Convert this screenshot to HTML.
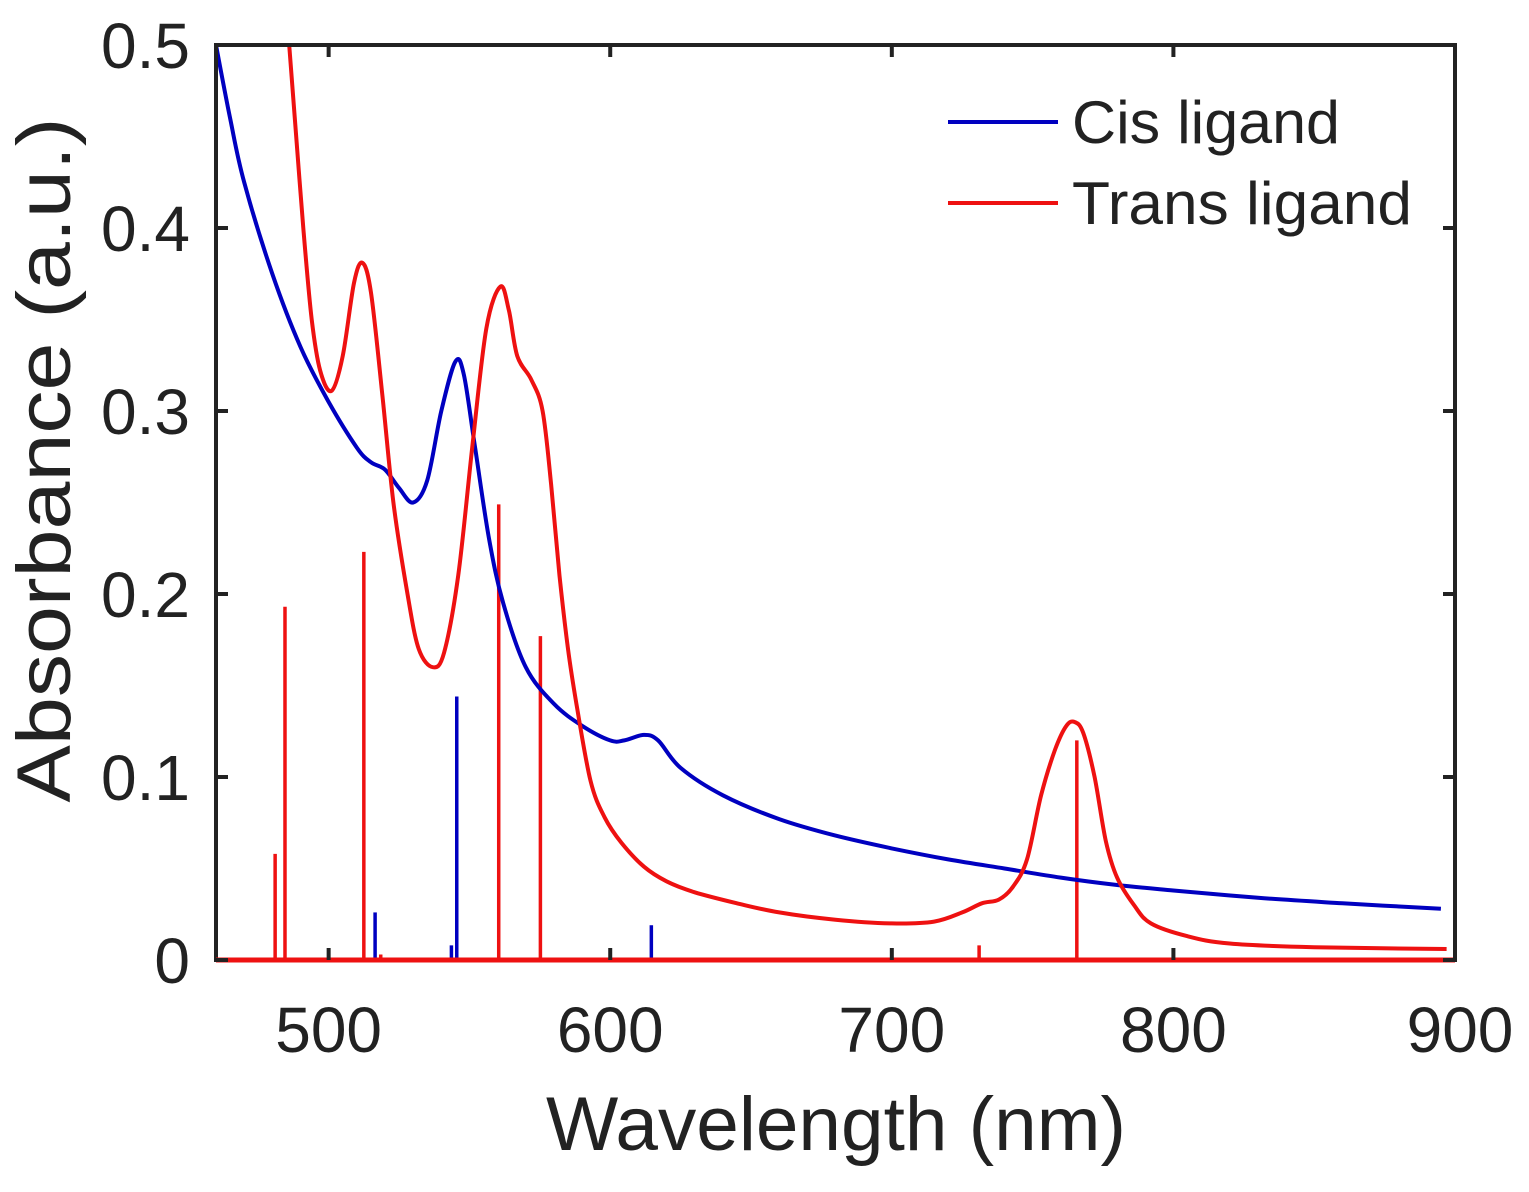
<!DOCTYPE html>
<html><head><meta charset="utf-8"><style>
html,body{margin:0;padding:0;background:#fff;}
svg{display:block;font-family:"Liberation Sans",Arial,sans-serif;}
</style></head><body>
<svg id="chart" width="1529" height="1192" viewBox="0 0 1529 1192" xmlns="http://www.w3.org/2000/svg">
<g id="plot"></g>
<g id="axes"></g>
<text x="836" y="1150" font-size="76" text-anchor="middle" fill="#222" textLength="580" lengthAdjust="spacingAndGlyphs">Wavelength (nm)</text>
<text transform="translate(70,460) rotate(-90)" font-size="76" text-anchor="middle" fill="#222" textLength="685" lengthAdjust="spacingAndGlyphs">Absorbance (a.u.)</text>
<g>
  <line x1="948" y1="122" x2="1058" y2="122" stroke="#0000c0" stroke-width="4"/>
  <text x="1072" y="143" font-size="60" fill="#222" textLength="268" lengthAdjust="spacingAndGlyphs">Cis ligand</text>
  <line x1="948" y1="203" x2="1058" y2="203" stroke="#ee1111" stroke-width="4"/>
  <text x="1072" y="224" font-size="60" fill="#222" textLength="340" lengthAdjust="spacingAndGlyphs">Trans ligand</text>
</g>
</svg>
<script>
const cisWl = [460,465,470,480,490,500,510,515,520,525,530,535,540,545,548,552,557,562,570,580,590,600,605,612,617,625,640,660,680,700,720,740,760,780,800,830,860,895];
const cisAbs = [0.50,0.46,0.425,0.375,0.335,0.305,0.28,0.272,0.268,0.258,0.25,0.262,0.30,0.327,0.32,0.28,0.23,0.195,0.16,0.14,0.128,0.12,0.12,0.123,0.12,0.105,0.09,0.077,0.068,0.061,0.055,0.05,0.045,0.041,0.038,0.034,0.031,0.028];
const transWl = [486,488,491,494,497,501,505,509,512,515,519,523,528,532,537,541,546,551,556,561,564,567,572,576,579,582,585,588,593,598,604,612,620,630,645,660,680,700,715,725,732,738,743,748,753,758,762,765,768,772,776,780,786,792,805,820,850,897];
const transAbs = [0.50,0.46,0.40,0.35,0.322,0.311,0.33,0.37,0.381,0.365,0.31,0.25,0.20,0.17,0.16,0.168,0.21,0.28,0.345,0.368,0.355,0.33,0.317,0.30,0.26,0.21,0.17,0.14,0.098,0.078,0.064,0.051,0.043,0.037,0.031,0.026,0.022,0.020,0.021,0.026,0.031,0.033,0.040,0.055,0.09,0.115,0.128,0.13,0.124,0.10,0.065,0.045,0.030,0.020,0.013,0.009,0.007,0.006];
const cisStickWl = [516.5,543.6,545.5,614.6];
const cisStickAbs = [0.026,0.008,0.144,0.019];
const transStickWl = [481,484.5,512.5,518.5,560.4,575.2,731,765.7];
const transStickAbs = [0.058,0.193,0.223,0.003,0.249,0.177,0.008,0.12];
const xTicks = [500,600,700,800,900];
const yTicks = [0,0.1,0.2,0.3,0.4,0.5];
const yTickLabels = ["0","0.1","0.2","0.3","0.4","0.5"];

const X0=216,X1=1455,Y0=960,Y1=45,WMIN=460,WMAX=900,AMIN=0,AMAX=0.5;
function xs(w){return X0+(w-WMIN)/(WMAX-WMIN)*(X1-X0);}
function ys(a){return Y0-(a-AMIN)/(AMAX-AMIN)*(Y0-Y1);}
const NS="http://www.w3.org/2000/svg";
const plot=document.getElementById('plot'), axes=document.getElementById('axes');
function mk(tag,attrs,parent){const e=document.createElementNS(NS,tag);for(const k in attrs)e.setAttribute(k,attrs[k]);parent.appendChild(e);return e;}
function smoothPath(wl,ab){
  const p=wl.map((w,i)=>[xs(w),ys(ab[i])]);
  let d='M'+p[0][0].toFixed(1)+','+p[0][1].toFixed(1);
  for(let i=0;i<p.length-1;i++){
    const p0=p[i-1]||p[i],p1=p[i],p2=p[i+1],p3=p[i+2]||p[i+1];
    const c1=[p1[0]+(p2[0]-p0[0])/6,p1[1]+(p2[1]-p0[1])/6];
    const c2=[p2[0]-(p3[0]-p1[0])/6,p2[1]-(p3[1]-p1[1])/6];
    d+=' C'+c1.map(v=>v.toFixed(1)).join(',')+' '+c2.map(v=>v.toFixed(1)).join(',')+' '+p2[0].toFixed(1)+','+p2[1].toFixed(1);
  }
  return d;
}
cisStickWl.forEach((w,i)=>{
  const l=mk('line',{x1:xs(w),x2:xs(w),y1:ys(0),y2:ys(cisStickAbs[i]),stroke:'#0000c0','stroke-width':3.5},plot);
  
  
});
transStickWl.forEach((w,i)=>{
  const l=mk('line',{x1:xs(w),x2:xs(w),y1:ys(0),y2:ys(transStickAbs[i]),stroke:'#ee1111','stroke-width':3.5},plot);
  
  
});
const cp=mk('path',{d:smoothPath(cisWl,cisAbs),fill:'none',stroke:'#0000c0','stroke-width':4,'stroke-linejoin':'round'},plot);


const tp=mk('path',{d:smoothPath(transWl,transAbs),fill:'none',stroke:'#ee1111','stroke-width':4,'stroke-linejoin':'round'},plot);


const fr=mk('rect',{x:X0,y:Y1,width:X1-X0,height:Y0-Y1,fill:'none',stroke:'#222','stroke-width':4},axes);


const bl=mk('line',{x1:X0,x2:X1,y1:Y0,y2:Y0,stroke:'#ee1111','stroke-width':5},axes);


xTicks.forEach(t=>{
  const x=xs(t);
  mk('line',{x1:x,x2:x,y1:Y0,y2:Y0-12,stroke:'#222','stroke-width':4},axes);
  mk('line',{x1:x,x2:x,y1:Y1,y2:Y1+12,stroke:'#222','stroke-width':4},axes);
  const tx=mk('text',{x:t===900?1460:x,y:1052,'font-size':64,'text-anchor':'middle',fill:'#222'},axes);
  tx.textContent=String(t);
  
  
});
yTicks.forEach((t,i)=>{
  const y=ys(t);
  mk('line',{x1:X0,x2:X0+12,y1:y,y2:y,stroke:'#222','stroke-width':4},axes);
  mk('line',{x1:X1,x2:X1-12,y1:y,y2:y,stroke:'#222','stroke-width':4},axes);
  const tx=mk('text',{x:190,y:y+23,'font-size':64,'text-anchor':'end',fill:'#222'},axes);
  tx.textContent=yTickLabels[i];
  
  
});
</script>
</body></html>
